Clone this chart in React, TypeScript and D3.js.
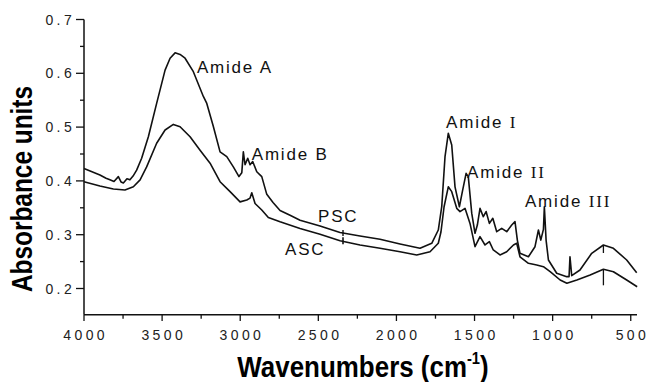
import React from "react";
import * as d3 from "d3";

// ---- data ----
const pscWavenumbers = [
  4000, 3898, 3859, 3834, 3808, 3780, 3763, 3748, 3725, 3706, 3686, 3663, 3631, 3588, 3535, 3481, 3449, 3417, 3385, 3353,
  3300, 3236, 3214, 3172, 3129, 3086, 3044, 3008, 2990, 2980, 2969, 2952, 2937, 2920, 2894, 2862, 2830, 2790, 2745, 2681,
  2617, 2489, 2361, 2233, 2105, 1977, 1849, 1774, 1732, 1710, 1689, 1668, 1646, 1625, 1597, 1576, 1554, 1540, 1518, 1497,
  1482, 1465, 1444, 1426, 1405, 1383, 1358, 1326, 1294, 1262, 1241, 1226, 1209, 1155, 1113, 1091, 1076, 1059, 1053, 1042,
  1027, 974, 910, 895, 889, 878, 825, 750, 675, 611, 526, 462,
];
const pscAbsorbance = [
  0.423, 0.411, 0.405, 0.402, 0.399, 0.408, 0.398, 0.396, 0.404, 0.402, 0.409, 0.42, 0.442, 0.482, 0.544, 0.606, 0.628, 0.638, 0.635, 0.628,
  0.603, 0.557, 0.544, 0.501, 0.454, 0.445, 0.426, 0.408, 0.415, 0.454, 0.43, 0.442, 0.43, 0.436, 0.417, 0.408, 0.375, 0.36, 0.345, 0.336,
  0.327, 0.316, 0.304, 0.2976, 0.2914, 0.2827, 0.2747, 0.284, 0.3087, 0.352, 0.445, 0.4885, 0.4667, 0.389, 0.352, 0.383, 0.414, 0.408, 0.34, 0.3026,
  0.318, 0.349, 0.3335, 0.343, 0.321, 0.3305, 0.3056, 0.3119, 0.3056, 0.318, 0.3242, 0.29, 0.2654, 0.259, 0.2777, 0.3087, 0.29, 0.31, 0.352, 0.29,
  0.253, 0.2283, 0.222, 0.222, 0.259, 0.224, 0.2344, 0.2654, 0.2809, 0.2747, 0.253, 0.2294,
];

const ascWavenumbers = [
  4000, 3898, 3812, 3738, 3684, 3641, 3599, 3535, 3481, 3428, 3385, 3321, 3257, 3193, 3129, 3065, 3001, 2958, 2937, 2926,
  2905, 2862, 2820, 2745, 2617, 2489, 2361, 2233, 2105, 1977, 1870, 1785, 1732, 1715, 1695, 1668, 1646, 1614, 1593, 1561,
  1529, 1497, 1465, 1433, 1405, 1380, 1337, 1294, 1251, 1230, 1209, 1155, 1102, 1059, 1016, 952, 909, 845, 760, 675,
  611, 526, 459,
];
const ascAbsorbance = [
  0.3985, 0.3905, 0.385, 0.383, 0.389, 0.402, 0.426, 0.47, 0.4946, 0.505, 0.5007, 0.482, 0.457, 0.433, 0.3985, 0.38, 0.361, 0.3645, 0.368, 0.378,
  0.358, 0.346, 0.332, 0.324, 0.3117, 0.301, 0.2889, 0.2809, 0.2747, 0.2684, 0.2623, 0.2684, 0.284, 0.305, 0.352, 0.389, 0.38, 0.349, 0.343, 0.349,
  0.321, 0.2777, 0.2963, 0.2809, 0.287, 0.2716, 0.2623, 0.2684, 0.2809, 0.284, 0.259, 0.2468, 0.2437, 0.2405, 0.2312, 0.2158, 0.2097, 0.2158, 0.225, 0.2357,
  0.2312, 0.2158, 0.2033,
];

const xMajorTicks = [4000, 3500, 3000, 2500, 2000, 1500, 1000, 500];
const xMinorTicks = [3750, 3250, 2750, 2250, 1750, 1250, 750];
const yMajorTicks = [0.2, 0.3, 0.4, 0.5, 0.6, 0.7];
const yMinorTicks = [0.25, 0.35, 0.45, 0.55, 0.65];

const crossingMarks = [2342];
const peakMarks = [675];

const annotations = [
  { text: "Amide A", roman: "", w: 3277, v: 0.6006 },
  { text: "Amide B", roman: "", w: 2926, v: 0.4389 },
  { text: "PSC", roman: "", w: 2502, v: 0.323 },
  { text: "ASC", roman: "", w: 2713, v: 0.2623 },
  { text: "Amide ", roman: "I", w: 1682, v: 0.498 },
  { text: "Amide ", roman: "II", w: 1548, v: 0.405 },
  { text: "Amide ", roman: "III", w: 1177, v: 0.352 },
];

const xScale = d3.scaleLinear().domain([4000, 460]).range([84, 637]);
const yScale = d3.scaleLinear().domain([0.15, 0.7]).range([315.4, 19.5]);

const line = d3
  .line<[number, number]>()
  .x((d) => xScale(d[0]))
  .y((d) => yScale(d[1]));

const zip = (a: number[], b: number[]): [number, number][] => a.map((w, i) => [w, b[i]]);

const interp = (ws: number[], vs: number[], w: number) => {
  for (let i = 0; i < ws.length - 1; i++) {
    if ((ws[i] - w) * (ws[i + 1] - w) <= 0) {
      const t = (w - ws[i]) / (ws[i + 1] - ws[i]);
      return vs[i] + t * (vs[i + 1] - vs[i]);
    }
  }
  return vs[vs.length - 1];
};

const TICK_FS = 14;
const TICK_GAP = 3.4;
// Arial digit advance 0.556em, period 0.278em; spacing placed only between glyphs
const labelLength = (s: string) =>
  s.split("").reduce((acc, c) => acc + (c === "." ? 0.278 : 0.556) * TICK_FS, 0) + (s.length - 1) * TICK_GAP;

export default function App() {
  const font = "'Liberation Sans', Arial, sans-serif";
  const annLs = 1.8;
  return (
    <svg width={647} height={382} style={{ position: "absolute", left: 0, top: 0, background: "#fff" }}>
      <rect x={0} y={0} width={647} height={382} fill="#fff" />
      {/* axes */}
      <line x1={xScale(4000)} x2={xScale(460)} y1={314.7} y2={314.7} stroke="#111" strokeWidth={1.5} />
      <line x1={84} x2={84} y1={yScale(0.7)} y2={314.7} stroke="#111" strokeWidth={1.5} />
      {xMajorTicks.map((t) => {
        const s = String(t);
        const len = labelLength(s);
        return (
          <g key={"xm" + t}>
            <line x1={xScale(t)} x2={xScale(t)} y1={314.7} y2={321} stroke="#111" strokeWidth={1.3} />
            <text
              x={xScale(t) - len / 2}
              y={339.5}
              fontFamily={font}
              fontSize={TICK_FS}
              textLength={len}
              lengthAdjust="spacing"
              fill="#222"
            >
              {s}
            </text>
          </g>
        );
      })}
      {xMinorTicks.map((t) => (
        <line key={"xn" + t} x1={xScale(t)} x2={xScale(t)} y1={314.7} y2={318.7} stroke="#111" strokeWidth={1.3} />
      ))}
      {yMajorTicks.map((t) => {
        const s = t.toFixed(1);
        const len = labelLength(s);
        return (
          <g key={"ym" + t}>
            <line x1={76} x2={84} y1={yScale(t)} y2={yScale(t)} stroke="#111" strokeWidth={1.3} />
            <text
              x={71.7 - len}
              y={yScale(t) + 5}
              fontFamily={font}
              fontSize={TICK_FS}
              textLength={len}
              lengthAdjust="spacing"
              fill="#222"
            >
              {s}
            </text>
          </g>
        );
      })}
      {yMinorTicks.map((t) => (
        <line key={"yn" + t} x1={80} x2={84} y1={yScale(t)} y2={yScale(t)} stroke="#111" strokeWidth={1.3} />
      ))}

      {/* curves */}
      <path d={line(zip(pscWavenumbers, pscAbsorbance)) || ""} fill="none" stroke="#111" strokeWidth={1.6} strokeLinejoin="round" />
      <path d={line(zip(ascWavenumbers, ascAbsorbance)) || ""} fill="none" stroke="#111" strokeWidth={1.6} strokeLinejoin="round" />

      {/* small marks */}
      {crossingMarks.map((w) => (
        <g key={"c" + w}>
          <line x1={xScale(w)} x2={xScale(w)} y1={yScale(interp(pscWavenumbers, pscAbsorbance, w)) - 3} y2={yScale(interp(pscWavenumbers, pscAbsorbance, w)) + 3} stroke="#111" strokeWidth={1.4} />
          <line x1={xScale(w)} x2={xScale(w)} y1={yScale(interp(ascWavenumbers, ascAbsorbance, w)) - 4} y2={yScale(interp(ascWavenumbers, ascAbsorbance, w)) + 3} stroke="#111" strokeWidth={1.6} />
        </g>
      ))}
      {peakMarks.map((w) => (
        <g key={"p" + w}>
          <line x1={xScale(w)} x2={xScale(w)} y1={yScale(interp(pscWavenumbers, pscAbsorbance, w))} y2={yScale(interp(pscWavenumbers, pscAbsorbance, w)) + 8} stroke="#111" strokeWidth={1.3} />
          <line x1={xScale(w)} x2={xScale(w)} y1={yScale(interp(ascWavenumbers, ascAbsorbance, w))} y2={yScale(interp(ascWavenumbers, ascAbsorbance, w)) + 16} stroke="#111" strokeWidth={1.3} />
        </g>
      ))}

      {/* annotations */}
      {annotations.map((a) => (
        <text key={a.text + a.roman} x={xScale(a.w)} y={yScale(a.v)} fontFamily={font} fontSize={17} letterSpacing={annLs} fill="#111">
          {a.text}
          {a.roman ? <tspan fontFamily="'Liberation Serif', 'DejaVu Serif', serif" fontSize={17}>{a.roman}</tspan> : null}
        </text>
      ))}

      {/* axis titles */}
      <g transform="translate(363,376.7) scale(0.865,1)">
        <text x={0} y={0} textAnchor="middle" fontFamily={font} fontWeight="bold" fontSize={30} fill="#000">
          Wavenumbers (cm
          <tspan fontSize={17} dy={-13}>-1</tspan>
          <tspan dy={13}>)</tspan>
        </text>
      </g>
      <text
        transform="translate(31.5,189) rotate(-90)"
        x={0}
        y={0}
        textAnchor="middle"
        fontFamily={font}
        fontWeight="bold"
        fontSize={30}
        textLength={206}
        lengthAdjust="spacingAndGlyphs"
        fill="#000"
      >
        Absorbance units
      </text>
    </svg>
  );
}
